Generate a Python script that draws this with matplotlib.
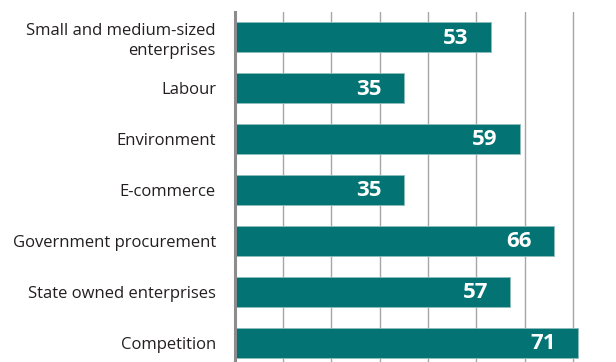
import matplotlib
matplotlib.use("Agg")
import matplotlib.pyplot as plt
from matplotlib.transforms import offset_copy

categories = [
    "Small and medium-sized\nenterprises",
    "Labour",
    "Environment",
    "E-commerce",
    "Government procurement",
    "State owned enterprises",
    "Competition",
]
values = [53, 35, 59, 35, 66, 57, 71]

TEAL = "#037373"
W, H = 616, 362
fig = plt.figure(figsize=(W / 100, H / 100), dpi=100)

# axes area in pixels: x from 234.7 to ~621.6 (0..80), y from 12 to ~368 (-0.5..6.5)
left, right = 234.7, 234.7 + 80 * 4.836
top, bottom = 12, 12 + 7 * 50.88
ax = fig.add_axes([left / W, 1 - bottom / H, (right - left) / W, (bottom - top) / H])

ypos = list(range(len(categories)))
ax.barh(ypos, values, height=0.59, color=TEAL, edgecolor="#8fbcbc",
        linewidth=0.6, zorder=3)

ax.set_xlim(0, 80)
ax.set_ylim(len(categories) - 0.5, -0.5)
ax.set_xticks(range(10, 81, 10))
ax.grid(axis="x", color="#a6a6a6", linewidth=1.0, zorder=0)
ax.tick_params(axis="both", length=0)
ax.set_xticklabels([])
ax.set_yticks(ypos)
ax.set_yticklabels(categories, fontsize=12, color="#231f20",
                   family=["Open Sans", "DejaVu Sans"], linespacing=1.3)
ax.tick_params(axis="y", pad=13.5)
for lab in ax.get_yticklabels():
    lab.set_horizontalalignment("right")

for s in ["top", "right", "bottom"]:
    ax.spines[s].set_visible(False)
ax.spines["left"].set_color("#8c8c8c")
ax.spines["left"].set_linewidth(2.2)
ax.spines["left"].set_zorder(4)

for y, v in zip(ypos, values):
    tr = offset_copy(ax.transData, fig=fig, x=-16, y=-0.5, units="points")
    ax.text(v, y, str(v), transform=tr, ha="right", va="center",
            color="white", fontsize=16, fontweight="bold",
            family=["Open Sans", "DejaVu Sans"], zorder=5)

fig.savefig("out.png", dpi=100)
